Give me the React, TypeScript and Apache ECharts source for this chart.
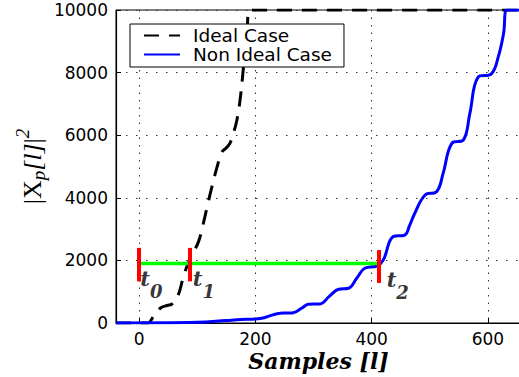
import React, { useEffect, useRef } from "react";
import * as echarts from "echarts";

// ---- data ----
const seriesNames = ["Ideal Case", "Non Ideal Case"];

const idealX = [-40, 0, 15, 24, 36, 48, 56, 67, 76, 85, 93, 102, 109, 117, 125, 134, 142, 150, 156, 162, 168, 174, 180, 186, 190, 657];
const idealY = [0, 0, 0, 200, 470, 560, 600, 890, 1480, 1950, 2250, 2600, 3080, 3720, 4350, 4990, 5450, 5600, 5740, 6060, 6480, 7200, 8300, 9500, 10000, 10000];

const nonIdealX = [-40, 100, 150, 175, 200, 215, 230, 242, 255, 265, 280, 291, 311, 327, 343, 360, 375, 388, 409, 420, 437, 457, 465, 474, 492, 512, 523, 538, 558, 569, 583, 606, 618, 627, 633, 657];
const nonIdealY = [0, 20, 80, 110, 130, 170, 260, 310, 320, 330, 480, 600, 610, 850, 1080, 1110, 1450, 1750, 1820, 2010, 2760, 2810, 3100, 3500, 4090, 4200, 4780, 5740, 5850, 6700, 7850, 7960, 8510, 9250, 10000, 10000];

const markerX = [0, 87, 412];
const markerLow = [1330, 1330, 1280];
const markerHigh = [2400, 2400, 2330];
const markerSub = ["0", "1", "2"];
const spanY = 1900;

const xTicks = [0, 200, 400, 600];
const xMin = -40;
const xMax = 657;
const yMin = 0;
const yMax = 10000;
const yInterval = 2000;

const zip = (xs: number[], ys: number[]) => xs.map((x, i) => [x, ys[i]]);

const tickFont = "DejaVu Sans";
const labelFont = "DejaVu Serif";

export default function App() {
  const ref = useRef<HTMLDivElement>(null);

  useEffect(() => {
    if (!ref.current) return;
    const chart = echarts.init(ref.current, undefined, { renderer: "svg" });

    const dotted = (v: boolean) => ({
      show: true,
      lineStyle: { color: "#333", width: 1, type: v ? [1.5, 6] : [1.5, 8.5] },
    });

    const labelOffsets = [[1, -3], [3, -3], [8, -3]];

    const option: any = {
      animation: false,
      backgroundColor: "#ffffff",
      grid: {
        left: 116,
        top: 10,
        right: -2,
        bottom: 54,
        outerBoundsMode: "none",
        containLabel: false,
        show: true,
        borderColor: "#000",
        borderWidth: 1,
        backgroundColor: "transparent",
      },
      legend: {
        data: seriesNames,
        orient: "vertical",
        left: 130,
        top: 24,
        backgroundColor: "#ffffff",
        borderColor: "#000",
        borderWidth: 1,
        borderRadius: 0,
        padding: [2, 12, 3, 13],
        itemWidth: 36,
        itemHeight: 14,
        itemGap: 0,
        z: 10,
        itemStyle: { opacity: 0, borderWidth: 0 },
        textStyle: {
          fontFamily: tickFont,
          fontSize: 18.5,
          color: "#000",
          lineHeight: 18,
          padding: [0, 0, 0, 8],
        },
      },
      xAxis: {
        type: "value",
        min: xMin,
        max: xMax,
        name: "Samples [l]",
        nameLocation: "middle",
        nameGap: 27,
        nameMoveOverlap: false,
        nameTextStyle: {
          fontFamily: labelFont,
          fontStyle: "italic",
          fontWeight: "bold",
          fontSize: 22,
          color: "#000",
        },
        axisLine: { show: true, onZero: false, lineStyle: { color: "#000", width: 1.2 } },
        axisTick: { show: true, inside: true, length: 5, customValues: xTicks, lineStyle: { color: "#000" } },
        axisLabel: {
          customValues: xTicks,
          fontFamily: tickFont,
          fontSize: 17,
          color: "#000",
          margin: 7,
          formatter: (v: number) => String(v),
        },
        minorTick: { show: false },
        splitLine: dotted(true),
      },
      yAxis: {
        type: "value",
        min: yMin,
        max: yMax,
        interval: yInterval,
        name: "{u||X}{sub|p}{i|[l]}{u||}{sup|2}",
        nameLocation: "middle",
        nameRotate: 90,
        nameGap: 64,
        nameMoveOverlap: false,
        nameTextStyle: {
          color: "#000",
          rich: {
            u: { fontFamily: "Liberation Serif", fontSize: 26, color: "#000" },
            i: { fontFamily: "Liberation Serif", fontStyle: "italic", fontSize: 26, color: "#000" },
            sub: { fontFamily: "Liberation Serif", fontStyle: "italic", fontSize: 19, padding: [12, 0, 0, 0], color: "#000" },
            sup: { fontFamily: "Liberation Serif", fontStyle: "italic", fontSize: 19, padding: [0, 0, 20, 0], color: "#000" },
          },
        },
        axisLine: { show: true, onZero: false, lineStyle: { color: "#000", width: 1.2 } },
        axisTick: { show: true, inside: true, length: 5, lineStyle: { color: "#000" } },
        axisLabel: {
          fontFamily: tickFont,
          fontSize: 17,
          color: "#000",
          margin: 8,
          formatter: (v: number) => String(v),
        },
        splitLine: dotted(false),
      },
      series: [
        {
          name: seriesNames[0],
          type: "line",
          data: zip(idealX, idealY),
          symbol: "none",
          smooth: 0.4,
          clip: true,
          lineStyle: { color: "#000", width: 3, type: [15, 10] },
          itemStyle: { color: "#000" },
          z: 3,
        },
        {
          name: seriesNames[1],
          type: "line",
          data: zip(nonIdealX, nonIdealY),
          symbol: "none",
          smooth: 0.4,
          clip: true,
          lineStyle: { color: "#0000ff", width: 3 },
          itemStyle: { color: "#0000ff" },
          z: 4,
        },
        {
          name: "span",
          type: "line",
          data: [
            [markerX[0], spanY],
            [markerX[markerX.length - 1], spanY],
          ],
          symbol: "none",
          lineStyle: { color: "#00ff00", width: 3.5 },
          z: 5,
          silent: true,
          markLine: {
            silent: true,
            symbol: ["none", "none"],
            label: { show: false },
            lineStyle: { color: "#ff0000", width: 4, type: "solid" },
            data: markerX.map((x, i) => [
              { coord: [x, markerLow[i]] },
              { coord: [x, markerHigh[i]] },
            ]),
            z: 6,
          },
        },
        {
          name: "tLabels",
          type: "scatter",
          symbolSize: 0,
          silent: true,
          z: 7,
          data: markerX.map((x, i) => ({
            value: [x, markerLow[i]],
            label: {
              show: true,
              position: [labelOffsets[i][0], labelOffsets[i][1]],
              align: "left",
              verticalAlign: "middle",
              formatter: "{t|t}{s|" + markerSub[i] + "}",
              rich: {
                t: { fontFamily: labelFont, fontStyle: "italic", fontWeight: "bold", fontSize: 21, color: "#000" },
                s: {
                  fontFamily: labelFont,
                  fontStyle: "italic",
                  fontWeight: "bold",
                  fontSize: 18,
                  color: "#000",
                  padding: [26, 0, 0, 0],
                },
              },
            },
          })),
        },
      ],
    };

    chart.setOption(option);
    return () => chart.dispose();
  }, []);

  return (
    <div
      ref={ref}
      style={{ position: "fixed", left: 0, top: 0, width: 519, height: 377, background: "#fff" }}
    />
  );
}
